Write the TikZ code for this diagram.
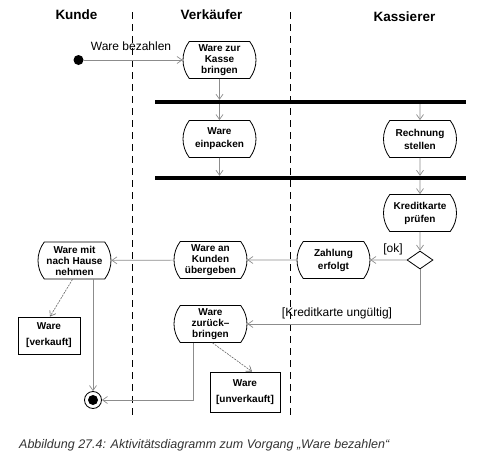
\documentclass[tikz,border=0pt]{standalone}
\usepackage{fontspec}
\setmainfont{Liberation Sans}
\usetikzlibrary{shapes.misc,shapes.geometric,arrows.meta}
\begin{document}
\begin{tikzpicture}[x=1pt,y=-1pt,
  head/.style={font=\bfseries\fontsize{13.5}{15}\selectfont,inner sep=0pt},
  lbl/.style={font=\fontsize{12}{14}\selectfont,inner sep=0pt},
  act/.style={draw,line width=0.8pt,rounded rectangle,rounded rectangle arc length=75,
    minimum width=73pt,minimum height=37pt,inner xsep=0pt,inner ysep=0pt,align=center,
    font=\bfseries\fontsize{10}{11}\selectfont},
  obj/.style={draw,line width=0.8pt,rectangle,align=center,inner sep=0pt,
    font=\bfseries\fontsize{10}{11}\selectfont},
  flow/.style={draw=black!45,line width=0.7pt,-{Straight Barb[length=5pt,width=7pt]}},
  dep/.style={flow,draw=black!60,line width=0.6pt,dash pattern=on 2pt off 1pt},
  lane/.style={line width=0.8pt,dash pattern=on 7pt off 5pt},
  syncbar/.style={fill=black,inner sep=0pt,minimum width=311pt,minimum height=4pt},
]
\useasboundingbox (0,0) rectangle (485,471);

% headers
\node[head] (hK) at (76.5,14.5) {Kunde};
\node[head] (hV) at (211.5,14.5) {Verkäufer};
\node[head] (hKa) at (404.5,17) {Kassierer};

% swimlane separators
\coordinate (l1t) at (132,12); \coordinate (l1b) at (132,415);
\coordinate (l2t) at (290,12); \coordinate (l2b) at (290,415);
\draw[lane] (l1t) -- (l1b);
\draw[lane] (l2t) -- (l2b);

% nodes
\node[circle,fill,inner sep=0pt,minimum size=10pt] (start) at (78.5,60) {};
\node[act] (A1) at (219.5,60) {Ware zur\\Kasse\\bringen};
\node[syncbar] (b1) at (310.5,102) {};
\node[act] (A2) at (219.5,139) {Ware\\[2pt]einpacken};
\node[act] (A3) at (420,139) {Rechnung\\[2pt]stellen};
\node[syncbar] (b2) at (310.5,178) {};
\node[act] (A4) at (420,213) {Kreditkarte\\[2pt]prüfen};
\node[diamond,draw,line width=0.8pt,inner sep=0pt,minimum width=26pt,minimum height=18pt] (D) at (420,260) {};
\node[act] (A5) at (333.5,260) {Zahlung\\[2pt]erfolgt};
\node[act] (A6) at (210.5,260) {Ware an\\Kunden\\übergeben};
\node[act] (A7) at (74.5,260.5) {Ware mit\\nach Hause\\nehmen};
\node[act] (A8) at (210.5,324) {Ware\\zurück--\\bringen};
\node[obj,minimum width=62pt,minimum height=37pt] (O1) at (49,335.5) {Ware\\[5pt][verkauft]};
\node[obj,minimum width=70pt,minimum height=40pt] (O2) at (245,392) {Ware\\[5pt][unverkauft]};
\node[circle,draw,line width=0.8pt,inner sep=0pt,minimum size=17pt] (fin) at (93,400) {};
\node[circle,fill,inner sep=0pt,minimum size=10pt] (finIn) at (fin.center) {};

% labels
\node[lbl] (lWB) at (131,46) {Ware bezahlen};
\node[lbl] (lOK) at (393,249) {[ok]};
\node[lbl] (lKU) at (337,313) {[Kreditkarte ungültig]};

% connectors
\draw[flow] (start) -- (A1);
\draw[flow] (A1) -- (A1 |- b1.north);
\draw[flow] (A2 |- b1.south) -- (A2);
\draw[flow] (A2) -- (A2 |- b2.north);
\draw[flow] (A3 |- b1.south) -- (A3);
\draw[flow] (A3) -- (A3 |- b2.north);
\draw[flow] (A4 |- b2.south) -- (A4);
\draw[flow] (A4) -- (D);
\draw[flow] (D) -- (A5);
\draw[flow] (A5) -- (A6);
\draw[flow] (A6) -- (A7);
\draw[flow] (D.south) |- (A8.east);
\draw[dep] ([xshift=-2pt]A7.south) -- ([xshift=1pt]O1.north);
\draw[flow] (fin |- A7.south) -- (fin.north);
\draw[flow] ([xshift=-17.5pt]A8.south) |- (fin.east);
\draw[dep] ([xshift=2pt]A8.south) -- ([xshift=7pt]O2.north);

% caption
\node[anchor=west,inner sep=0pt,text=black!80,font=\itshape\fontsize{12.5}{14}\selectfont] (cap) at (19,445) {Abbildung 27.4: Aktivitätsdiagramm zum Vorgang „Ware bezahlen“};
\end{tikzpicture}
\end{document}
